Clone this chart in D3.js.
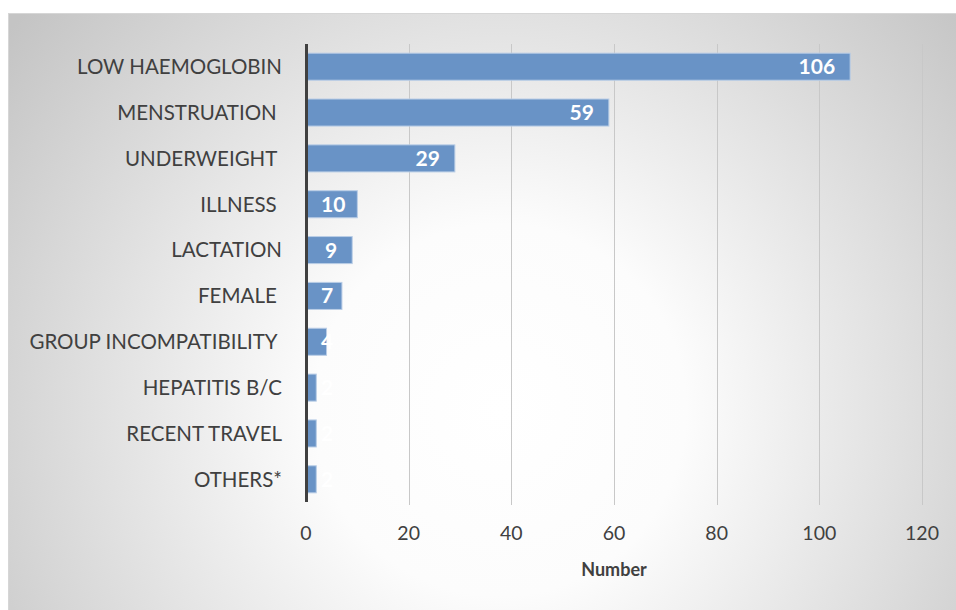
<!DOCTYPE html>
<html>
<head>
<meta charset="utf-8">
<script src="https://cdn.jsdelivr.net/npm/d3@7"></script>
<style>
  body { margin: 0; background: #fff; }
  text { font-family: Lato, "Open Sans", sans-serif; }
</style>
</head>
<body>
<div id="chart"></div>
<script>
// chart data
var categories = ["LOW HAEMOGLOBIN", "MENSTRUATION ", "UNDERWEIGHT ", "ILLNESS ", "LACTATION",
    "FEMALE ", "GROUP INCOMPATIBILITY ", "HEPATITIS B/C", "RECENT TRAVEL", "OTHERS*"];
var counts = [106, 59, 29, 10, 9, 7, 4, 2, 2, 2];
var xTicks = [0, 20, 40, 60, 80, 100, 120];
var xTitle = "Number";

var svgWidth = 956;
var svgHeight = 610;

var margin = { top: 44, right: 34, bottom: 108, left: 306 };
var chartWidth = 922 - margin.left;
var chartHeight = 502 - margin.top;

var svg = d3.select("#chart")
    .append("svg")
    .attr("width", svgWidth)
    .attr("height", svgHeight);

// background gradient
var defs = svg.append("defs");
var grad = defs.append("radialGradient")
    .attr("id", "bg")
    .attr("gradientUnits", "userSpaceOnUse")
    .attr("cx", 500).attr("cy", 410).attr("r", 620);
grad.append("stop").attr("offset", "0%").attr("stop-color", "#ffffff");
grad.append("stop").attr("offset", "30%").attr("stop-color", "#fcfcfc");
grad.append("stop").attr("offset", "100%").attr("stop-color", "#c4c4c4");

svg.append("rect")
    .attr("x", 8.5).attr("y", 13.5)
    .attr("width", 960).attr("height", 610)
    .attr("fill", "url(#bg)")
    .attr("stroke", "#d6d6d6");

var chartGroup = svg.append("g")
    .attr("transform", `translate(${margin.left}, ${margin.top})`);

var xScale = d3.scaleLinear()
    .domain([0, 120])
    .range([0, chartWidth]);

var yScale = d3.scaleBand()
    .domain(categories)
    .range([0, chartHeight])
    .paddingInner(0.41)
    .paddingOuter(0.2);

// gridlines
chartGroup.append("g")
    .selectAll("line")
    .data(xTicks.slice(1))
    .enter()
    .append("line")
    .attr("x1", d => Math.round(xScale(d)) + 0.5)
    .attr("x2", d => Math.round(xScale(d)) + 0.5)
    .attr("y1", 0)
    .attr("y2", chartHeight + 3)
    .attr("stroke", "#c8c8c8")
    .attr("stroke-width", 1);

// bars
chartGroup.selectAll("rect.bar")
    .data(counts)
    .enter()
    .append("rect")
    .attr("class", "bar")
    .attr("x", xScale(0) + 1)
    .attr("y", (d, i) => yScale(categories[i]))
    .attr("width", d => xScale(d) - xScale(0) - 1)
    .attr("height", yScale.bandwidth())
    .attr("fill", "#6993c6")
    .attr("stroke", "#b9cde6")
    .attr("stroke-width", 1);

// value labels inside the bar end
var valueLabels = chartGroup.selectAll("text.value")
    .data(counts)
    .enter()
    .append("text")
    .attr("class", "value")
    .attr("y", (d, i) => yScale(categories[i]) + yScale.bandwidth() / 2)
    .attr("dy", "0.36em")
    .attr("text-anchor", "end")
    .attr("fill", "#ffffff")
    .attr("font-weight", "bold")
    .attr("font-size", "21px")
    .text(d => d);

valueLabels.attr("x", function(d) {
    var w = this.getComputedTextLength();
    return Math.max(xScale(d) - 15, xScale(0) + 15 + w);
});

// y axis line
chartGroup.append("line")
    .attr("x1", xScale(0) + 0.5)
    .attr("x2", xScale(0) + 0.5)
    .attr("y1", 0)
    .attr("y2", chartHeight)
    .attr("stroke", "#404040")
    .attr("stroke-width", 3);

// category labels
chartGroup.selectAll("text.cat")
    .data(categories)
    .enter()
    .append("text")
    .attr("class", "cat")
    .attr("x", -24)
    .attr("y", d => yScale(d) + yScale.bandwidth() / 2)
    .attr("dy", "0.36em")
    .attr("text-anchor", "end")
    .attr("fill", "#404040")
    .attr("font-size", "20.5px")
    .style("white-space", "pre")
    .text(d => d);

// x tick labels
chartGroup.selectAll("text.tick")
    .data(xTicks)
    .enter()
    .append("text")
    .attr("class", "tick")
    .attr("x", d => xScale(d))
    .attr("y", chartHeight + 31)
    .attr("dy", "0.36em")
    .attr("text-anchor", "middle")
    .attr("fill", "#404040")
    .attr("font-size", "19.5px")
    .text(d => d);

// x axis title
chartGroup.append("text")
    .attr("x", xScale(60))
    .attr("y", chartHeight + 68)
    .attr("dy", "0.36em")
    .attr("text-anchor", "middle")
    .attr("fill", "#404040")
    .attr("font-weight", "bold")
    .attr("font-size", "18px")
    .text(xTitle);
</script>
</body>
</html>
